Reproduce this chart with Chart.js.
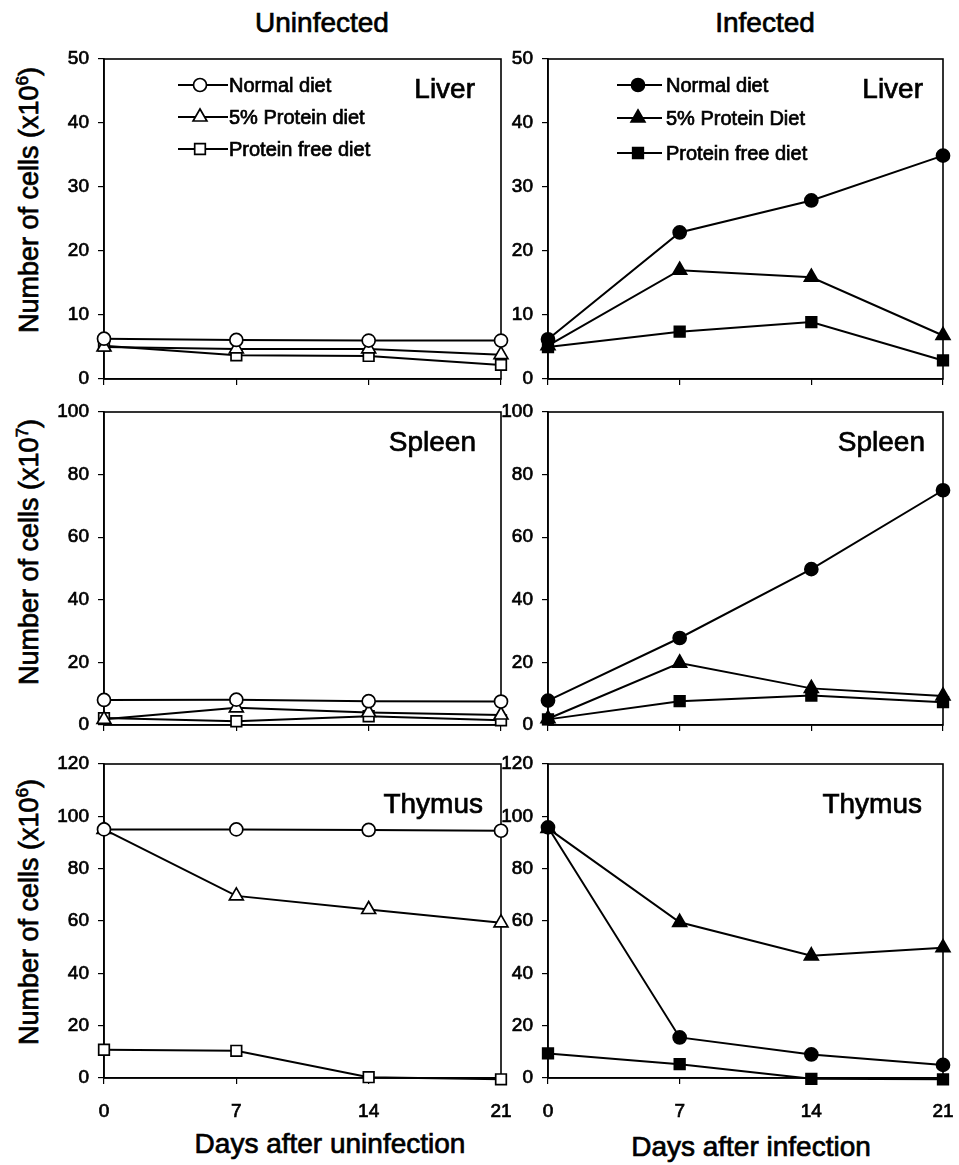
<!DOCTYPE html>
<html>
<head>
<meta charset="utf-8">
<script src="https://cdn.jsdelivr.net/npm/chart.js@4.4.1/dist/chart.umd.min.js"></script>
<style>
  html, body { margin: 0; padding: 0; background: #fff; }
  body { width: 959px; height: 1165px; position: relative; overflow: hidden; font-family: "Liberation Sans", Arial, sans-serif; color: #000; }
  canvas.c { position: absolute; }
  .t { position: absolute; white-space: nowrap; color: #000; line-height: 1; -webkit-text-stroke: 0.7px #000; }
  .rot { transform: translate(-50%, -50%) rotate(-90deg); }
  .ctr { transform: translate(-50%, -50%); }
  sup { font-size: 0.62em; vertical-align: 0.55em; line-height: 0; }
</style>
</head>
<body>
<div class="t ctr" style="left:322px;top:23px;font-size:28px;">Uninfected</div>
<div class="t ctr" style="left:765px;top:23px;font-size:28px;">Infected</div>
<div class="t rot" style="left:29px;top:200px;font-size:27px;">Number of cells (x10<sup>6</sup>)</div>
<div class="t rot" style="left:29px;top:552px;font-size:27px;">Number of cells (x10<sup>7</sup>)</div>
<div class="t rot" style="left:29px;top:912px;font-size:27px;">Number of cells (x10<sup>6</sup>)</div>
<div class="t ctr" style="left:330px;top:1144px;font-size:28px;">Days after uninfection</div>
<div class="t ctr" style="left:751px;top:1147px;font-size:28px;">Days after infection</div>

<canvas class="c" id="liverU" width="520" height="365" style="left:0px;top:35px;"></canvas>
<canvas class="c" id="liverI" width="469" height="365" style="left:490px;top:35px;"></canvas>
<canvas class="c" id="spleenU" width="520" height="355" style="left:0px;top:390px;"></canvas>
<canvas class="c" id="spleenI" width="469" height="355" style="left:490px;top:390px;"></canvas>
<canvas class="c" id="thymusU" width="520" height="425" style="left:0px;top:740px;"></canvas>
<canvas class="c" id="thymusI" width="469" height="425" style="left:490px;top:740px;"></canvas>

<script>
// ---------------- DATA ----------------
const days = [0, 7, 14, 21];
const dayTicks = [0, 7, 14, 21];
const labelsUninfected = ['Normal diet', '5% Protein diet', 'Protein free diet'];
const labelsInfected = ['Normal diet', '5% Protein Diet', 'Protein free diet'];

const liverTicks = [0, 10, 20, 30, 40, 50];
const spleenTicks = [0, 20, 40, 60, 80, 100];
const thymusTicks = [0, 20, 40, 60, 80, 100, 120];

// Liver (x10^6)
const liverUninfNormal = [6.3, 6.1, 6.0, 6.0];
const liverUninfLow = [5.0, 4.7, 4.7, 3.8];
const liverUninfFree = [5.2, 3.7, 3.6, 2.2];
const liverInfNormal = [6.2, 22.9, 27.9, 34.9];
const liverInfLow = [5.2, 17.0, 15.9, 6.8];
const liverInfFree = [5.0, 7.4, 8.9, 2.9];

// Spleen (x10^7)
const spleenUninfNormal = [8.0, 8.1, 7.6, 7.5];
const spleenUninfLow = [1.8, 5.5, 4.0, 3.2];
const spleenUninfFree = [2.2, 1.2, 2.8, 1.5];
const spleenInfNormal = [7.8, 27.8, 49.8, 75.0];
const spleenInfLow = [2.0, 19.8, 11.7, 9.3];
const spleenInfFree = [1.8, 7.6, 9.4, 7.3];

// Thymus (x10^6)
const thymusUninfNormal = [95.0, 95.0, 94.8, 94.5];
const thymusUninfLow = [95.0, 69.6, 64.4, 59.3];
const thymusUninfFree = [10.8, 10.4, 0.3, -0.5];
const thymusInfNormal = [95.8, 15.5, 9.0, 5.0];
const thymusInfLow = [95.4, 59.5, 46.7, 49.8];
const thymusInfFree = [9.4, 5.3, -0.3, -0.5];

// ---------------- STYLE ----------------
Chart.defaults.font.family = '"Liberation Sans", Arial, sans-serif';
Chart.defaults.font.size = 19;
Chart.defaults.color = '#000';

const markerStyles = ['circle', 'triangle', 'rect'];
const markerRadii = [6.5, 8, 7.5];
const TEXT_STROKE = 0.7;

function drawMarker(ctx, style, r, x, y) {
  if (Chart.helpers && Chart.helpers.drawPoint) {
    Chart.helpers.drawPoint(ctx, { pointStyle: style, radius: r, rotation: 0, borderWidth: ctx.lineWidth }, x, y);
    return;
  }
  ctx.beginPath();
  if (style === 'circle') ctx.arc(x, y, r, 0, Math.PI * 2);
  else if (style === 'triangle') {
    ctx.moveTo(x, y - r);
    ctx.lineTo(x + r * 0.866, y + r * 0.5);
    ctx.lineTo(x - r * 0.866, y + r * 0.5);
    ctx.closePath();
  } else { const s = r * Math.SQRT1_2; ctx.rect(x - s, y - s, 2 * s, 2 * s); }
  ctx.fill(); ctx.stroke();
}

function heavyText(ctx, txt, x, y) {
  ctx.fillText(txt, x, y);
  ctx.lineWidth = TEXT_STROKE;
  ctx.strokeStyle = '#000';
  ctx.strokeText(txt, x, y);
}

function decoPlugin(cfg) {
  return {
    id: 'deco',
    beforeDatasetsDraw(chart) {
      const { ctx, chartArea: a } = chart;
      ctx.save();
      ctx.strokeStyle = '#000';
      ctx.lineWidth = 1.6;
      ctx.strokeRect(a.left, a.top, a.right - a.left, a.bottom - a.top);
      ctx.restore();
    },
    afterDraw(chart) {
      const { ctx, chartArea: a } = chart;
      ctx.save();
      ctx.fillStyle = '#000';
      ctx.font = '28px "Liberation Sans", Arial, sans-serif';
      ctx.textAlign = 'right';
      ctx.textBaseline = 'middle';
      heavyText(ctx, cfg.organ, a.right - cfg.organDx, a.top + cfg.organDy);
      if (cfg.legend) {
        const lg = cfg.legend;
        chart.data.datasets.forEach((d, i) => {
          const y = a.top + lg.y[i];
          ctx.strokeStyle = '#000';
          ctx.lineWidth = 1.8;
          ctx.beginPath();
          ctx.moveTo(a.left + lg.x0, y);
          ctx.lineTo(a.left + lg.x1, y);
          ctx.stroke();
          ctx.fillStyle = d.pointBackgroundColor;
          ctx.lineWidth = d.pointBorderWidth;
          drawMarker(ctx, d.pointStyle, d.pointRadius, a.left + lg.xm, y);
          ctx.fillStyle = '#000';
          ctx.font = '20px "Liberation Sans", Arial, sans-serif';
          ctx.textAlign = 'left';
          ctx.textBaseline = 'middle';
          heavyText(ctx, d.label, a.left + lg.xt, y + 1);
        });
      }
      ctx.restore();
    }
  };
}

function makePanel(id, p) {
  const datasets = p.series.map((vals, i) => ({
    label: p.labels[i],
    data: days.map((d, j) => ({ x: d, y: vals[j] })),
    borderColor: '#000',
    borderWidth: 2,
    pointStyle: markerStyles[i],
    pointRadius: markerRadii[i],
    pointBorderWidth: 1.7,
    pointBorderColor: '#000',
    pointBackgroundColor: p.filled ? '#000' : '#fff',
    tension: 0,
    fill: false,
    clip: false
  }));
  const yt = p.yTicks;
  const tickFont = { size: 19 };
  new Chart(document.getElementById(id), {
    type: 'line',
    data: { datasets },
    options: {
      responsive: false,
      animation: false,
      events: [],
      layout: { padding: { top: p.padTop, right: p.padRight, left: 0, bottom: 0 } },
      plugins: { legend: { display: false }, tooltip: { enabled: false } },
      scales: {
        x: {
          type: 'linear',
          min: dayTicks[0],
          max: dayTicks[dayTicks.length - 1],
          afterBuildTicks: s => { s.ticks = dayTicks.map(v => ({ value: v })); },
          ticks: {
            autoSkip: false,
            maxRotation: 0,
            padding: 16,
            color: '#000',
            font: tickFont,
            textStrokeColor: '#000',
            textStrokeWidth: TEXT_STROKE,
            callback: v => (p.xLabels ? String(v) : '')
          },
          grid: { drawOnChartArea: false, drawTicks: true, tickLength: 6, color: '#000', lineWidth: 1.2 },
          border: { display: true, color: '#000', width: 1.6 },
          afterFit: s => { s.height = p.xH; s.paddingLeft = 0; s.paddingRight = 0; }
        },
        y: {
          type: 'linear',
          min: yt[0],
          max: yt[yt.length - 1],
          afterBuildTicks: s => { s.ticks = yt.map(v => ({ value: v })); },
          ticks: { autoSkip: false, padding: 9, color: '#000', font: tickFont, textStrokeColor: '#000', textStrokeWidth: TEXT_STROKE },
          grid: { drawOnChartArea: false, drawTicks: true, tickLength: 6, color: '#000', lineWidth: 1.2 },
          border: { display: true, color: '#000', width: 1.6 },
          afterFit: s => { s.width = p.yW; s.paddingTop = 0; s.paddingBottom = 0; }
        }
      }
    },
    plugins: [decoPlugin(p.deco)]
  });
}

const L = { yW: 104, padRight: 19 };
const R = { yW: 58, padRight: 16 };
const legendL = { x0: 74, x1: 124, xm: 96, xt: 125, y: [26, 58, 90] };
const legendR = { x0: 69, x1: 114, xm: 90, xt: 118, y: [26, 59, 94] };

makePanel('liverU', Object.assign({}, L, {
  padTop: 24, xH: 21, xLabels: false, filled: false, labels: labelsUninfected, yTicks: liverTicks,
  series: [liverUninfNormal, liverUninfLow, liverUninfFree],
  deco: { organ: 'Liver', organDx: 26, organDy: 31, legend: legendL }
}));
makePanel('liverI', Object.assign({}, R, {
  padTop: 24, xH: 21, xLabels: false, filled: true, labels: labelsInfected, yTicks: liverTicks,
  series: [liverInfNormal, liverInfLow, liverInfFree],
  deco: { organ: 'Liver', organDx: 20, organDy: 31, legend: legendR }
}));
makePanel('spleenU', Object.assign({}, L, {
  padTop: 22, xH: 20, xLabels: false, filled: false, labels: labelsUninfected, yTicks: spleenTicks,
  series: [spleenUninfNormal, spleenUninfLow, spleenUninfFree],
  deco: { organ: 'Spleen', organDx: 25, organDy: 31 }
}));
makePanel('spleenI', Object.assign({}, R, {
  padTop: 22, xH: 20, xLabels: false, filled: true, labels: labelsInfected, yTicks: spleenTicks,
  series: [spleenInfNormal, spleenInfLow, spleenInfFree],
  deco: { organ: 'Spleen', organDx: 18, organDy: 31 }
}));
makePanel('thymusU', Object.assign({}, L, {
  padTop: 24, xH: 87, xLabels: true, filled: false, labels: labelsUninfected, yTicks: thymusTicks,
  series: [thymusUninfNormal, thymusUninfLow, thymusUninfFree],
  deco: { organ: 'Thymus', organDx: 18, organDy: 41 }
}));
makePanel('thymusI', Object.assign({}, R, {
  padTop: 24, xH: 87, xLabels: true, filled: true, labels: labelsInfected, yTicks: thymusTicks,
  series: [thymusInfNormal, thymusInfLow, thymusInfFree],
  deco: { organ: 'Thymus', organDx: 21, organDy: 41 }
}));
</script>
</body>
</html>
